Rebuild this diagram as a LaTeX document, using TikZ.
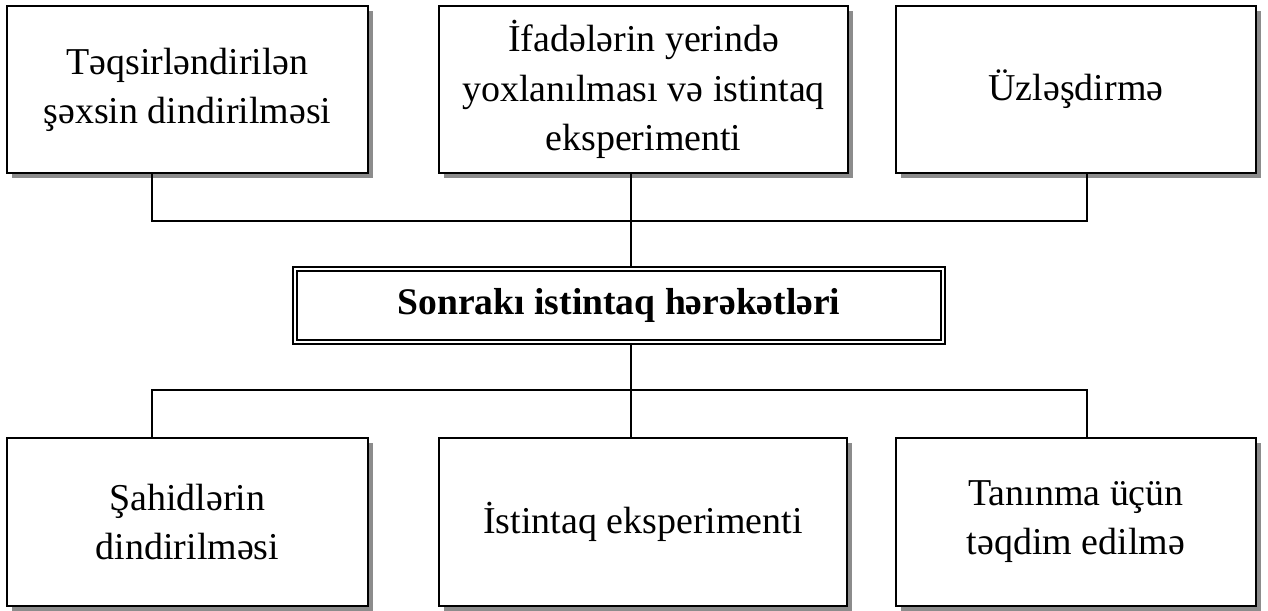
\documentclass[tikz,border=0pt]{standalone}
\usepackage{fontspec}
\setmainfont{Liberation Serif}
\usetikzlibrary{shadows}

\begin{document}
\begin{tikzpicture}[x=0.02cm,y=-0.02cm,
  box/.style={draw,line width=1.1pt,fill=white,align=center,inner sep=0pt,
    minimum height=3.34cm,
    font=\fontsize{21.6}{28}\selectfont,
    drop shadow={shadow xshift=0.1cm,shadow yshift=-0.1cm,fill=gray!90,opacity=1}},
  title/.style={draw,line width=1.1pt,double,double distance=1.1pt,fill=white,
    minimum width=12.96cm,minimum height=1.46cm,inner sep=0pt,
    font=\fontsize{21.4}{26}\selectfont\bfseries},
  link/.style={line width=1.1pt}]
\useasboundingbox (0,0) rectangle (1268,610);

\node[box,minimum width=7.22cm] (A) at (187.5,89.5) {Təqsirləndirilən\\şəxsin dindirilməsi};
\node[box,minimum width=8.18cm] (B) at (643.5,89.5) {İfadələrin yerində\\yoxlanılması və istintaq\\eksperimenti};
\node[box,minimum width=7.2cm] (C) at (1076,89.5) {Üzləşdirmə};

\node[title] (M) at (619,305.5) {Sonrakı istintaq hərəkətləri};

\node[box,minimum width=7.22cm,minimum height=3.36cm] (D) at (187.5,522) {Şahidlərin\\dindirilməsi};
\node[box,minimum width=8.16cm,minimum height=3.36cm] (E) at (643,522) {İstintaq eksperimenti};
\node[box,minimum width=7.2cm,minimum height=3.36cm] (F) at (1076,522) {Tanınma üçün\\təqdim edilmə};

\coordinate (tl) at (152,221);
\coordinate (tr) at (1087,221);
\coordinate (tm) at (631,221);
\coordinate (bl) at (152,390);
\coordinate (br) at (1087,390);
\coordinate (bm) at (631,390);

\draw[link] (A.south -| tl) -- (tl) -- (tr) -- (C.south -| tr);
\draw[link] (B.south -| tm) -- (M.north -| tm);
\draw[link] (M.south -| bm) -- (bm);
\draw[link] (D.north -| bl) -- (bl) -- (br) -- (F.north -| br);
\draw[link] (bm) -- (E.north -| bm);
\end{tikzpicture}
\end{document}
